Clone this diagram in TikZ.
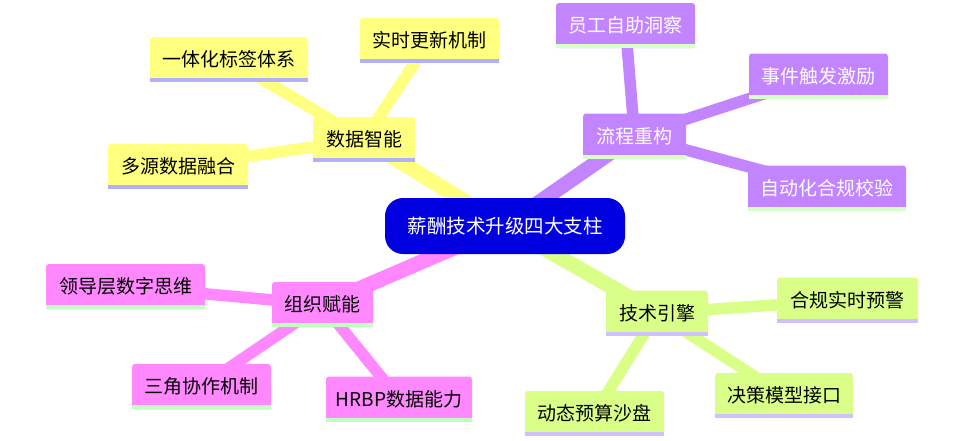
\documentclass[tikz,border=0pt]{standalone}
\usepackage{fontspec}
\newfontfamily\cjk{Noto Sans CJK SC}
\usetikzlibrary{backgrounds}
\definecolor{cY}{HTML}{FFFF80}
\definecolor{cYu}{HTML}{B0B0FF}
\definecolor{cP}{HTML}{C285FF}
\definecolor{cPu}{HTML}{D8FFC8}
\definecolor{cK}{HTML}{FF88FF}
\definecolor{cKu}{HTML}{C0FFC0}
\definecolor{cG}{HTML}{D9FF88}
\definecolor{cGu}{HTML}{D0C0FF}
\definecolor{cC}{HTML}{0000E0}
\tikzset{
  box/.style={rectangle, rounded corners=3pt, minimum height=45pt, inner sep=0pt,
    font=\cjk\fontsize{19}{22}\selectfont, anchor=center},
  yb/.style={box, fill=cY, text=black},
  pb/.style={box, fill=cP, text=white},
  kb/.style={box, fill=cK, text=black},
  gb/.style={box, fill=cG, text=black},
  centre/.style={rectangle, rounded corners=18pt, fill=cC, text=white, minimum width=240pt,
    minimum height=56pt, font=\cjk\fontsize{19.5}{22}\selectfont},
  mainline/.style={line width=15pt},
  leafline/.style={line width=11.5pt},
}
\begin{document}
\begin{tikzpicture}[x=1pt,y=-1pt]
\useasboundingbox (0,0) rectangle (980,440);
\node[centre] (c) at (505,226) {薪酬技术升级四大支柱};
% yellow
\node[yb, minimum width=102pt] (y0) at (364,139.5) {数据智能};
\node[yb, minimum width=158pt] (y1) at (229,59.5) {一体化标签体系};
\node[yb, minimum width=139pt] (y2) at (429.5,40.5) {实时更新机制};
\node[yb, minimum width=140pt] (y3) at (178,166.5) {多源数据融合};
% purple
\node[pb, minimum width=103pt] (p0) at (634.5,136) {流程重构};
\node[pb, minimum width=139pt] (p1) at (625.5,25.5) {员工自助洞察};
\node[pb, minimum width=139pt] (p2) at (818.5,76) {事件触发激励};
\node[pb, minimum width=158pt] (p3) at (827,188) {自动化合规校验};
% pink
\node[kb, minimum width=101pt] (k0) at (322.5,304.5) {组织赋能};
\node[kb, minimum width=159pt] (k1) at (125.5,286.5) {领导层数字思维};
\node[kb, minimum width=139pt] (k2) at (201.5,386.5) {三角协作机制};
\node[kb, minimum width=146pt] (k3) at (399,399) {HRBP数据能力};
% green
\node[gb, minimum width=102pt] (g0) at (657,313) {技术引擎};
\node[gb, minimum width=141pt] (g1) at (847.5,300) {合规实时预警};
\node[gb, minimum width=138pt] (g2) at (784,395.5) {决策模型接口};
\node[gb, minimum width=139pt] (g3) at (594.5,413.5) {动态预算沙盘};
% underlines
\foreach \n/\u in {y0/cYu,y1/cYu,y2/cYu,y3/cYu,p0/cPu,p1/cPu,p2/cPu,p3/cPu,
                   k0/cKu,k1/cKu,k2/cKu,k3/cKu,g0/cGu,g1/cGu,g2/cGu,g3/cGu}
  \fill[\u] (\n.south west) rectangle ([yshift=4pt]\n.south east);
\begin{pgfonlayer}{background}
  \draw[mainline, cY] (c.center) -- (y0.center);
  \draw[mainline, cP] (c.center) -- (p0.center);
  \draw[mainline, cK] (c.center) -- (k0.center);
  \draw[mainline, cG] (c.center) -- (g0.center);
  \foreach \i in {1,2,3} {
    \draw[leafline, cY] (y0.center) -- (y\i.center);
    \draw[leafline, cP] (p0.center) -- (p\i.center);
    \draw[leafline, cK] (k0.center) -- (k\i.center);
    \draw[leafline, cG] (g0.center) -- (g\i.center);
  }
\end{pgfonlayer}
\end{tikzpicture}
\end{document}
